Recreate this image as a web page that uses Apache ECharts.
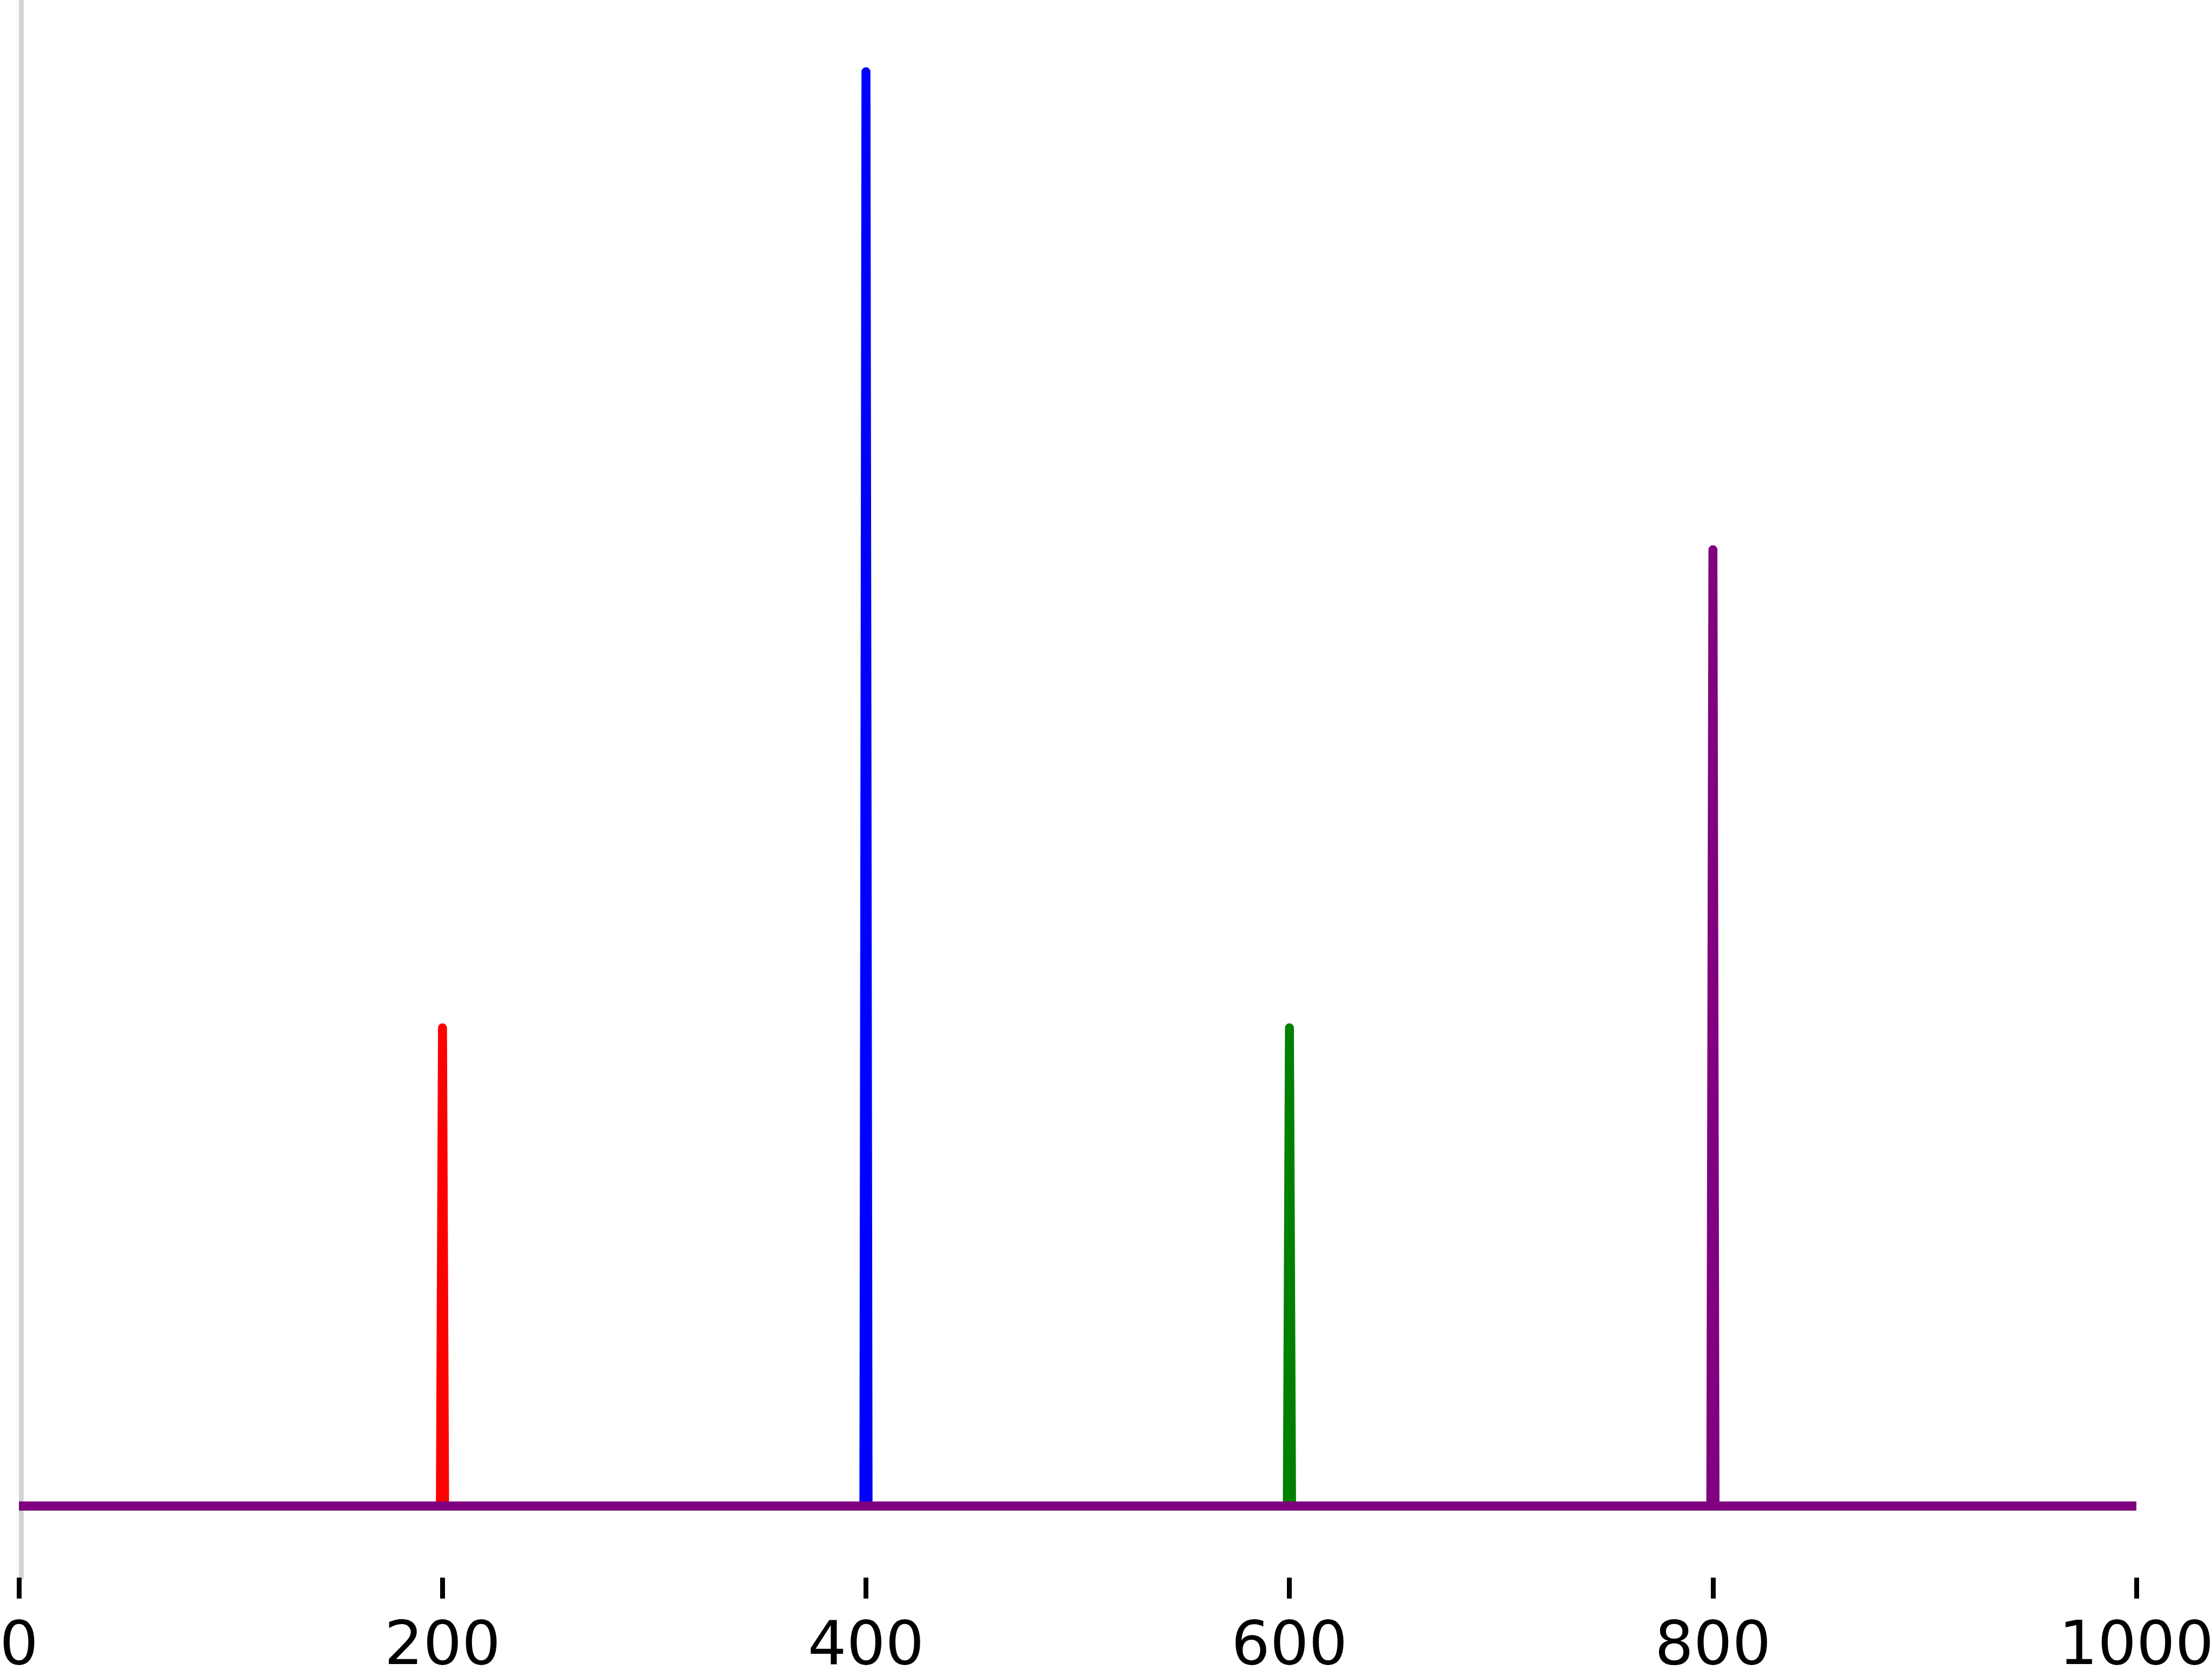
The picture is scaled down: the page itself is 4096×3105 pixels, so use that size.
<!DOCTYPE html>
<html>
<head>
<meta charset="utf-8">
<script src="https://cdn.jsdelivr.net/npm/echarts@6/dist/echarts.min.js"></script>
<style>
  html, body { margin: 0; padding: 0; background: #fff; }
  #chart { width: 4096px; height: 3105px; }
</style>
</head>
<body>
<div id="chart"></div>
<script>
// x positions; each spike rises from 0 at x-1 to its peak at x and back to 0 at x+1
var xTicks = [0, 200, 400, 600, 800, 1000];
var redPoints = [[0, 0], [199, 0], [200, 1], [201, 0], [1000, 0]];
var bluePoints = [[0, 0], [399, 0], [400, 3], [401, 0], [1000, 0]];
var greenPoints = [[0, 0], [599, 0], [600, 1], [601, 0], [1000, 0]];
var purplePoints = [[0, 0], [799, 0], [800, 2], [801, 0], [1000, 0]];

var chart = echarts.init(document.getElementById('chart'), null, { renderer: 'canvas' });

function spike(name, color, data) {
  return {
    name: name,
    type: 'line',
    data: data,
    showSymbol: false,
    silent: true,
    lineStyle: { color: color, width: 16.6, join: 'round', cap: 'butt' }
  };
}

chart.setOption({
  animation: false,
  backgroundColor: '#ffffff',
  grid: {
    left: 35.2,
    right: 140,
    top: 0,
    bottom: 184,
    containLabel: false,
    outerBoundsMode: 'none'
  },
  xAxis: {
    type: 'value',
    min: xTicks[0],
    max: xTicks[xTicks.length - 1],
    interval: 200,
    axisLine: { show: false, onZero: false },
    axisTick: { show: true, length: 38.7, lineStyle: { color: '#000', width: 9 } },
    splitLine: { show: false },
    axisLabel: {
      show: true,
      color: '#000',
      fontSize: 112.8,
      fontFamily: 'DejaVu Sans',
      margin: 74,
      showMinLabel: true,
      showMaxLabel: true,
      formatter: function (v) { return String(v); }
    }
  },
  yAxis: {
    type: 'value',
    min: -0.15,
    max: 3.15,
    offset: -4,
    axisLine: { show: true, onZero: false, lineStyle: { color: '#d3d3d3', width: 8.7 } },
    axisTick: { show: false },
    axisLabel: { show: false },
    splitLine: { show: false }
  },
  series: [
    spike('red', '#ff0000', redPoints),
    spike('blue', '#0000ff', bluePoints),
    spike('green', '#008000', greenPoints),
    spike('purple', '#800080', purplePoints)
  ]
});
</script>
</body>
</html>
